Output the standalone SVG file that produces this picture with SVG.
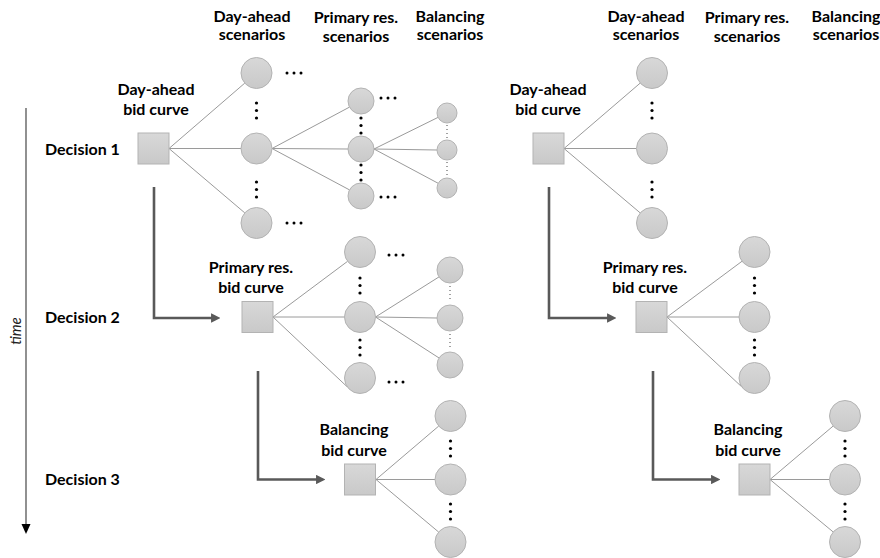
<svg xmlns="http://www.w3.org/2000/svg" width="880" height="558" viewBox="0 0 880 558">
<style>
text{font-family:Lato,"Liberation Sans",sans-serif;font-weight:bold;font-size:16px;fill:#000}
.c{text-anchor:middle}
.it{font-weight:normal;font-style:italic;fill:#222;font-size:15px}
.nd{fill:url(#g);stroke:#b3b3b3;stroke-width:1}
.ln{stroke:#9a9a9a;stroke-width:1;fill:none}
.el{stroke:#595959;stroke-width:2.6;fill:none;marker-end:url(#ah)}
.dt{fill:#000}
.td{stroke:#444;stroke-width:1;stroke-dasharray:1 3;fill:none}
</style>
<defs>
<linearGradient id="g" x1="0" y1="0" x2="0" y2="1"><stop offset="0" stop-color="#d8d8d8"/><stop offset="1" stop-color="#c9c9c9"/></linearGradient>
<marker id="ah" viewBox="0 0 10 10" refX="1" refY="5" markerWidth="3.6" markerHeight="3.6" orient="auto" markerUnits="strokeWidth"><path d="M0,0 L10,5 L0,10 z" fill="#595959"/></marker>
<g id="d3v"><circle cx="0" cy="0" r="1.6"/><circle cx="0" cy="7.5" r="1.6"/><circle cx="0" cy="15" r="1.6"/></g>
<g id="d3h"><circle cx="0" cy="0" r="1.5"/><circle cx="7" cy="0" r="1.5"/><circle cx="14" cy="0" r="1.5"/></g>
</defs>

<!-- time axis -->
<g id="time-axis">
<line x1="26" y1="108" x2="26" y2="526" stroke="#555" stroke-width="1.3"/>
<path d="M21.5,524 L30.5,524 L26,534 z" fill="#000"/>
<text class="it c" transform="translate(21,331) rotate(-90)">time</text>
</g>

<!-- headers -->
<g id="headers">
<text class="c" x="252" y="22">Day-ahead</text><text class="c" x="252" y="40">scenarios</text>
<text class="c" x="356" y="23">Primary res.</text><text class="c" x="356" y="42">scenarios</text>
<text class="c" x="450" y="22">Balancing</text><text class="c" x="450" y="40">scenarios</text>
<text class="c" x="646" y="22">Day-ahead</text><text class="c" x="646" y="40">scenarios</text>
<text class="c" x="747" y="23">Primary res.</text><text class="c" x="747" y="42">scenarios</text>
<text class="c" x="846" y="22">Balancing</text><text class="c" x="846" y="40">scenarios</text>
</g>

<g id="decisions">
<text x="45" y="155">Decision 1</text>
<text x="45" y="323">Decision 2</text>
<text x="45" y="485">Decision 3</text>
</g>

<!-- connectors -->
<g id="connectors">
<!-- left tree -->
<line class="ln" x1="169" y1="148.5" x2="244.8" y2="83.1"/>
<line class="ln" x1="169" y1="148.5" x2="241" y2="148.5"/>
<line class="ln" x1="169" y1="148.5" x2="244.8" y2="212.9"/>
<line class="ln" x1="272" y1="148.5" x2="349.5" y2="107.1"/>
<line class="ln" x1="272" y1="148.5" x2="348" y2="149"/>
<line class="ln" x1="272" y1="148.5" x2="349.5" y2="189.9"/>
<line class="ln" x1="374" y1="149" x2="438" y2="117.4"/>
<line class="ln" x1="374" y1="149" x2="437" y2="150"/>
<line class="ln" x1="374" y1="149" x2="438.2" y2="183.3"/>
<line class="ln" x1="273" y1="317" x2="347.6" y2="261.3"/>
<line class="ln" x1="273" y1="317" x2="344.5" y2="317"/>
<line class="ln" x1="273" y1="317" x2="347.3" y2="386.9"/>
<line class="ln" x1="375.5" y1="317" x2="439" y2="276.9"/>
<line class="ln" x1="375.5" y1="317" x2="437" y2="318"/>
<line class="ln" x1="375.5" y1="317" x2="439.1" y2="358"/>
<line class="ln" x1="376" y1="479.5" x2="438.7" y2="426.1"/>
<line class="ln" x1="376" y1="479.5" x2="435" y2="479.5"/>
<line class="ln" x1="376" y1="479.5" x2="438.6" y2="532"/>
<!-- right tree -->
<line class="ln" x1="564" y1="148.5" x2="640.2" y2="83.1"/>
<line class="ln" x1="564" y1="148.5" x2="636.5" y2="148.5"/>
<line class="ln" x1="564" y1="148.5" x2="640.2" y2="212.9"/>
<line class="ln" x1="667" y1="317" x2="742.1" y2="261.2"/>
<line class="ln" x1="667" y1="317" x2="739" y2="317"/>
<line class="ln" x1="667" y1="317" x2="741.8" y2="386.9"/>
<line class="ln" x1="770" y1="479.5" x2="833.2" y2="426"/>
<line class="ln" x1="770" y1="479.5" x2="829.5" y2="479.5"/>
<line class="ln" x1="770" y1="479.5" x2="833.1" y2="531.9"/>
<!-- elbow arrows -->
<path class="el" d="M154,187 V318 H212"/>
<path class="el" d="M258,371 V479.5 H317"/>
<path class="el" d="M549,187 V318 H608"/>
<path class="el" d="M653,371 V479.5 H712"/>
</g>

<!-- left panel nodes -->
<g id="da-bid-L"><rect class="nd" x="138" y="133" width="31" height="31"/><text class="c" x="156" y="95">Day-ahead</text><text class="c" x="156" y="115">bid curve</text></g>
<g id="da-scen-L">
<circle class="nd" cx="256.5" cy="73" r="15.5"/><circle class="nd" cx="256.5" cy="148.5" r="15.5"/><circle class="nd" cx="256.5" cy="223" r="15.5"/>
<g class="dt"><use href="#d3v" x="256.5" y="103"/><use href="#d3v" x="256.5" y="182"/><use href="#d3h" x="287" y="73"/><use href="#d3h" x="287" y="223"/></g>
</g>
<g id="pr-scen-L1">
<circle class="nd" cx="361" cy="101" r="13"/><circle class="nd" cx="361" cy="149" r="13"/><circle class="nd" cx="361" cy="196" r="13"/>
<g class="dt"><use href="#d3v" x="361" y="118"/><use href="#d3v" x="361" y="165"/><use href="#d3h" x="381" y="98"/><use href="#d3h" x="381" y="197"/></g>
</g>
<g id="bal-scen-L1">
<circle class="nd" cx="447" cy="113" r="10"/><circle class="nd" cx="447" cy="150" r="10"/><circle class="nd" cx="447" cy="188" r="10"/>
<path class="td" d="M447,125 V139 M447,162 V177"/>
</g>
<g id="pr-bid-L"><rect class="nd" x="242" y="301.5" width="31" height="31"/><text class="c" x="251" y="273">Primary res.</text><text class="c" x="251" y="293">bid curve</text></g>
<g id="pr-scen-L2">
<circle class="nd" cx="360" cy="252" r="15.5"/><circle class="nd" cx="360" cy="317" r="15.5"/><circle class="nd" cx="360" cy="378" r="15.5"/>
<g class="dt"><use href="#d3v" x="360" y="278"/><use href="#d3v" x="360" y="340"/><use href="#d3h" x="389" y="255"/><use href="#d3h" x="389" y="382"/></g>
</g>
<g id="bal-scen-L2">
<circle class="nd" cx="450" cy="270" r="13"/><circle class="nd" cx="450" cy="318" r="13"/><circle class="nd" cx="450" cy="365" r="13"/>
<path class="td" d="M450,286 V301 M450,334 V349"/>
</g>
<g id="bal-bid-L"><rect class="nd" x="344.5" y="464" width="31" height="31"/><text class="c" x="354" y="435">Balancing</text><text class="c" x="354" y="456">bid curve</text></g>
<g id="bal-scen-L3">
<circle class="nd" cx="450.5" cy="416" r="15.5"/><circle class="nd" cx="450.5" cy="479.5" r="15.5"/><circle class="nd" cx="450.5" cy="542" r="15.5"/>
<g class="dt"><use href="#d3v" x="450.5" y="441"/><use href="#d3v" x="450.5" y="504"/></g>
</g>

<!-- right panel nodes -->
<g id="da-bid-R"><rect class="nd" x="533" y="133" width="31" height="31"/><text class="c" x="548" y="95">Day-ahead</text><text class="c" x="548" y="115">bid curve</text></g>
<g id="da-scen-R">
<circle class="nd" cx="652" cy="73" r="15.5"/><circle class="nd" cx="652" cy="148.5" r="15.5"/><circle class="nd" cx="652" cy="223" r="15.5"/>
<g class="dt"><use href="#d3v" x="652" y="103"/><use href="#d3v" x="652" y="182"/></g>
</g>
<g id="pr-bid-R"><rect class="nd" x="636" y="301.5" width="31" height="31"/><text class="c" x="645" y="273">Primary res.</text><text class="c" x="645" y="293">bid curve</text></g>
<g id="pr-scen-R">
<circle class="nd" cx="754.5" cy="252" r="15.5"/><circle class="nd" cx="754.5" cy="317" r="15.5"/><circle class="nd" cx="754.5" cy="378" r="15.5"/>
<g class="dt"><use href="#d3v" x="754.5" y="278"/><use href="#d3v" x="754.5" y="340"/></g>
</g>
<g id="bal-bid-R"><rect class="nd" x="739" y="464" width="31" height="31"/><text class="c" x="748" y="435">Balancing</text><text class="c" x="748" y="456">bid curve</text></g>
<g id="bal-scen-R">
<circle class="nd" cx="845" cy="416" r="15.5"/><circle class="nd" cx="845" cy="479.5" r="15.5"/><circle class="nd" cx="845" cy="542" r="15.5"/>
<g class="dt"><use href="#d3v" x="845" y="441"/><use href="#d3v" x="845" y="504"/></g>
</g>
</svg>
